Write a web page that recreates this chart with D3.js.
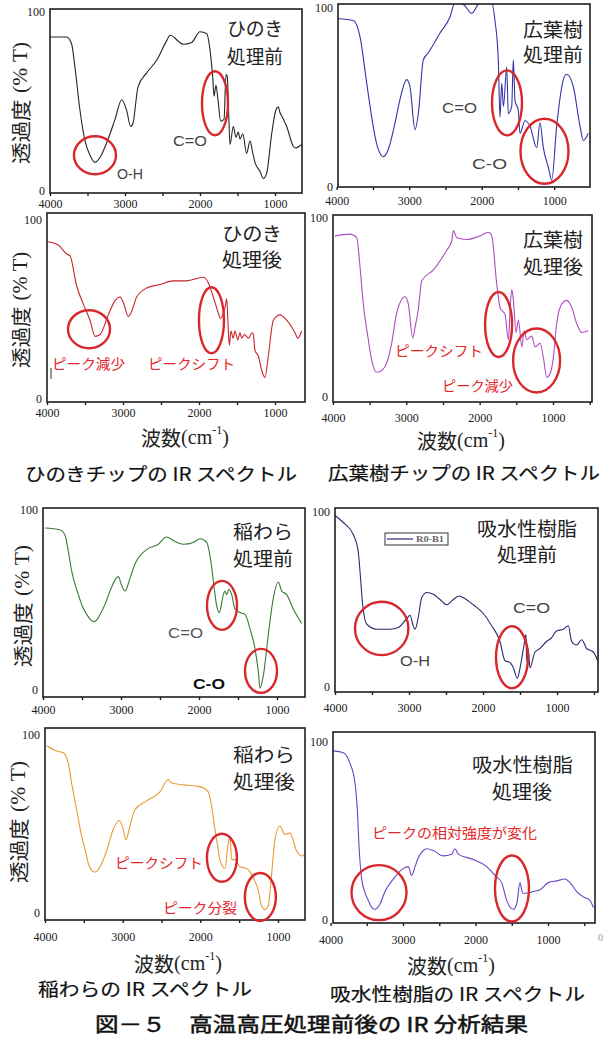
<!DOCTYPE html>
<html>
<head>
<meta charset="utf-8">
<script src="https://cdn.jsdelivr.net/npm/d3@7"></script>
<style>
  body { margin: 0; background: #fff; }
  svg { display: block; }
</style>
</head>
<body>
<svg id="fig" width="606" height="1041"></svg>
<script>
// IR spectra: [wavenumber (cm-1), transmittance (%T)]
const hinokiBefore = [[4000,86],[3778,86],[3711,82],[3667,69],[3600,45],[3533,28],[3467,20],[3400,16],[3330,19],[3244,27],[3133,40],[3044,51],[2978,45],[2924,36],[2893,38],[2827,58],[2711,66],[2578,73],[2444,84],[2400,87],[2222,82],[2111,83],[2000,89],[1911,88],[1867,79],[1831,64],[1813,53],[1787,59],[1760,51],[1724,39],[1680,40],[1653,65],[1636,64],[1618,44],[1600,26],[1556,36],[1520,30],[1489,33],[1467,29],[1430,32],[1378,21],[1333,28],[1300,22],[1267,16],[1200,11],[1156,7],[1111,10],[1044,32],[990,45],[956,47],[935,44],[911,42],[844,36],[756,25],[733,24],[644,26]];
const hinokiAfter = [[4000,88],[3851,86],[3741,81],[3697,80],[3609,63],[3522,53],[3434,44],[3368,35],[3303,36],[3193,47],[3105,55],[3039,57],[2996,54],[2930,46],[2886,49],[2820,57],[2688,62],[2513,64],[2338,66],[2162,66],[1943,68],[1878,65],[1812,57],[1746,48],[1720,45],[1658,51],[1635,56],[1620,44],[1601,30],[1580,38],[1550,34],[1526,38],[1490,33],[1460,37],[1438,34],[1400,36],[1350,34],[1300,37],[1285,36],[1263,27],[1219,24],[1175,16],[1132,12],[1088,24],[1022,44],[934,47],[846,44],[737,37],[700,34],[649,38]];
const broadleafBefore = [[3978,94],[3771,93],[3679,84],[3586,58],[3517,39],[3470,28],[3426,21],[3390,18],[3357,17],[3310,19],[3265,24],[3200,35],[3127,49],[3034,60],[2989,56],[2920,32],[2874,41],[2805,71],[2736,75],[2575,86],[2437,95],[2368,103],[2253,102],[2138,97],[2023,103],[1862,103],[1817,93],[1771,71],[1748,39],[1724,58],[1700,45],[1655,67],[1633,41],[1586,45],[1564,71],[1540,48],[1495,43],[1472,30],[1403,37],[1334,34],[1241,22],[1196,36],[1150,22],[1081,11],[1034,4],[966,34],[874,60],[828,63],[736,56],[644,34],[598,26],[529,30]];
const broadleafAfter = [[3973,90],[3768,91],[3677,89],[3632,73],[3587,52],[3518,32],[3480,22],[3450,17],[3410,14],[3382,14],[3330,15],[3267,19],[3200,30],[3131,47],[3018,56],[2973,52],[2913,33],[2881,39],[2836,49],[2790,65],[2632,71],[2449,82],[2381,87],[2358,93],[2312,89],[2176,88],[1995,90],[1881,92],[1835,90],[1767,63],[1722,50],[1654,46],[1608,32],[1585,49],[1562,60],[1540,54],[1503,36],[1472,43],[1425,28],[1394,37],[1358,32],[1290,34],[1245,28],[1176,30],[1131,22],[1085,11],[1040,13],[995,22],[950,41],[880,52],[812,54],[744,50],[676,41],[608,36],[518,37]];
const riceBefore = [[3974,90],[3782,89],[3718,86],[3675,77],[3632,66],[3547,53],[3490,46],[3440,42],[3390,39],[3355,38],[3310,39],[3269,42],[3200,48],[3141,55],[3035,63],[2991,58],[2949,55],[2885,62],[2821,70],[2671,78],[2522,81],[2415,85],[2329,83],[2201,81],[2073,82],[1987,84],[1902,82],[1837,68],[1804,56],[1774,47],[1740,43],[1688,53],[1667,55],[1645,53],[1615,56],[1581,53],[1538,45],[1474,43],[1410,42],[1346,34],[1282,23],[1239,10],[1218,1],[1175,8],[1111,31],[1047,51],[983,60],[940,55],[876,53],[791,45],[684,37]];
const resinBefore = [[4000,98],[3888,94],[3752,87],[3685,77],[3662,66],[3626,47],[3572,36],[3437,33],[3257,33],[3144,34],[3032,39],[2986,41],[2950,36],[2919,33],[2874,40],[2829,51],[2761,54],[2671,53],[2581,50],[2491,47],[2401,50],[2320,52],[2266,51],[2131,47],[1996,42],[1883,35],[1770,26],[1703,15],[1635,14],[1590,11],[1536,5],[1490,13],[1446,24],[1419,30],[1410,15],[1390,22],[1365,11],[1297,20],[1230,22],[1140,26],[1075,28],[1007,32],[915,33],[847,35],[802,26],[734,24],[666,27],[599,22],[509,20],[450,15]];
const riceAfter = [[3978,94],[3850,91],[3764,90],[3700,84],[3657,73],[3592,58],[3528,43],[3480,35],[3443,28],[3400,24],[3356,23],[3320,24],[3292,26],[3206,35],[3121,47],[3044,52],[2992,47],[2958,41],[2906,49],[2842,58],[2691,63],[2520,68],[2413,75],[2370,73],[2220,72],[2005,71],[1898,68],[1855,60],[1812,47],[1782,39],[1748,30],[1683,25],[1641,39],[1619,43],[1597,30],[1555,30],[1490,26],[1404,25],[1319,20],[1255,13],[1211,4],[1169,2],[1126,4],[1082,22],[1040,41],[976,49],[911,44],[847,45],[761,35],[697,32],[654,33]];
const resinAfter = [[3961,95],[3823,94],[3731,88],[3662,77],[3630,62],[3603,39],[3570,23],[3520,15],[3479,11],[3430,7],[3386,6],[3350,7],[3317,9],[3248,16],[3134,23],[2996,29],[2927,30],[2880,25],[2834,30],[2789,35],[2742,38],[2673,40],[2582,39],[2444,36],[2329,37],[2283,40],[2237,37],[2030,34],[1846,30],[1731,25],[1639,21],[1570,11],[1479,6],[1432,9],[1386,21],[1349,15],[1294,15],[1203,16],[1110,17],[996,21],[880,22],[766,23],[697,21],[604,16],[513,13],[421,11],[375,7]];

// Axis tick labels
const xTickLabels = [4000, 3000, 2000, 1000];
const yTickLabels = [0, 100];

// Highlighted bands: [wavenumber, %T] of each circle's centre
const hinokiBeforeMarks = [[3400,20],[1800,49]];
const hinokiAfterMarks = [[3447,39],[1836,44]];
const broadleafBeforeMarks = [[1651,47],[1134,20]];
const broadleafAfterMarks = [[1742,40.5],[1224,20.4]];
const riceBeforeMarks = [[1705,47],[1205,10.6]];
const riceAfterMarks = [[1722,31],[1227,9]];
const resinBeforeMarks = [[3369,33.5],[1608,17]];
const resinAfterMarks = [[3331,15.4],[1497,17.7]];

const JP = "'Noto Sans CJK JP', sans-serif";
const SERIF = "'Liberation Serif', 'DejaVu Serif', serif";
const SANS = "'Liberation Sans', Arial, sans-serif";
const RED = '#e3262a';

const panels = [
  { data: hinokiBefore, color: '#262626', frame: [50, 9, 302, 193], x4000: 50, x1000: 275, y0: 191, y100: 12, tickY: 204,
    yLabel: [20, 103, 122], title: ['ひのき', '処理前'], tpos: [227, 27, 55, 56, 56],
    marks: hinokiBeforeMarks, radii: [[21, 19], [13, 32]],
    notes: [['O-H', 117, 173, 26, '#444', SANS, 'normal'], ['C=O', 173, 140, 34, '#444', SANS, 'normal']] },
  { data: hinokiAfter, color: '#c8242a', frame: [47, 213, 305, 402], x4000: 47, x1000: 275, y0: 399, y100: 220, tickY: 413,
    yLabel: [20, 310, 116], title: ['ひのき', '処理後'], tpos: [222, 232, 258, 60, 60],
    marks: hinokiAfterMarks, radii: [[21, 19], [12.5, 33]],
    notes: [['ピーク減少', 52, 363, 73, RED, JP, 'normal'], ['ピークシフト', 148, 363, 87, RED, JP, 'normal']] },
  { data: broadleafBefore, color: '#3434a8', frame: [338, 4, 590, 187], x4000: 336.7, x1000: 554.2, y0: 187, y100: 8, tickY: 201,
    yLabel: null, title: ['広葉樹', '処理前'], tpos: [523, 28, 53, 60, 60],
    marks: broadleafBeforeMarks, radii: [[15, 32.5], [24, 32.5]],
    notes: [['C=O', 442, 107, 35, '#444', SANS, 'normal'], ['C-O', 472, 163, 35, '#444', SANS, 'normal']] },
  { data: broadleafAfter, color: '#b04cc4', frame: [333, 215, 592, 402], x4000: 333, x1000: 553, y0: 397, y100: 218, tickY: 418,
    yLabel: null, title: ['広葉樹', '処理後'], tpos: [523, 238, 265, 60, 60],
    marks: broadleafAfterMarks, radii: [[13.5, 32.5], [23.5, 32]],
    notes: [['ピークシフト', 395, 350, 88, RED, JP, 'normal'], ['ピーク減少', 442, 385, 71, RED, JP, 'normal']] },
  { data: riceBefore, color: '#3a7a34', frame: [43, 508, 305, 697], x4000: 43, x1000: 277, y0: 690, y100: 510, tickY: 710,
    yLabel: [22, 606, 122], title: ['稲わら', '処理前'], tpos: [233, 530, 557, 60, 60],
    marks: riceBeforeMarks, radii: [[15, 24.5], [16, 22]],
    notes: [['C=O', 168, 632, 35, '#555', SANS, 'normal'], ['C-O', 193, 683, 32, '#111', SANS, 'bold']] },
  { data: resinBefore, color: '#2a2a6e', frame: [335, 508, 598, 692], x4000: 335, x1000: 557, y0: 687, y100: 512, tickY: 708,
    yLabel: null, title: ['吸水性樹脂', '処理前'], tpos: [477, 527, 553, 100, 60], t2x: 497,
    marks: resinBeforeMarks, radii: [[26.7, 26.7], [16, 31]],
    notes: [['O-H', 400, 660, 30, '#444', SANS, 'normal'], ['C=O', 513, 607, 37, '#444', SANS, 'normal']], legend: true },
  { data: riceAfter, color: '#e89a36', frame: [45, 728, 305, 920], x4000: 45, x1000: 278, y0: 913, y100: 735, tickY: 937,
    yLabel: [18, 822, 122], title: ['稲わら', '処理後'], tpos: [233, 753, 780, 62, 62],
    marks: riceAfterMarks, radii: [[15, 24], [15.5, 24]],
    notes: [['ピークシフト', 115, 862, 88, RED, JP, 'normal'], ['ピーク分裂', 163, 907, 74, RED, JP, 'normal']] },
  { data: resinAfter, color: '#6a44c4', frame: [333, 732, 595, 923], x4000: 330.5, x1000: 548, y0: 920, y100: 742, tickY: 940,
    yLabel: null, title: ['吸水性樹脂', '処理後'], tpos: [472, 763, 790, 101, 60], t2x: 492,
    marks: resinAfterMarks, radii: [[27.5, 27.5], [17, 33]],
    notes: [['ピークの相対強度が変化', 372, 832, 165, RED, JP, 'normal']] }
];

const svg = d3.select('#fig');
svg.append('rect').attr('width', 606).attr('height', 1041).attr('fill', '#fff');

function label(g, s, x, y, o) {
  const t = g.append('text')
    .attr('x', x).attr('y', y)
    .attr('dominant-baseline', 'central')
    .attr('font-family', o.family || JP)
    .attr('font-size', o.size || 14)
    .attr('font-weight', o.weight || 'normal')
    .attr('fill', o.fill || '#222')
    .attr('text-anchor', o.anchor || 'start')
    .text(s);
  if (o.len) t.attr('textLength', o.len).attr('lengthAdjust', 'spacingAndGlyphs');
  if (o.stroke) t.attr('stroke', o.fill || '#222').attr('stroke-width', o.stroke);
  return t;
}

panels.forEach((p, i) => {
  const [l, t, r, b] = p.frame;
  const x = d3.scaleLinear().domain([4000, 1000]).range([p.x4000, p.x1000]);
  const y = d3.scaleLinear().domain([0, 100]).range([p.y0, p.y100]);
  const g = svg.append('g');

  const clipId = 'clip' + i;
  svg.append('clipPath').attr('id', clipId)
    .append('rect').attr('x', l).attr('y', t).attr('width', r - l).attr('height', b - t);

  // spectrum trace
  const line = d3.line().x(d => x(d[0])).y(d => y(d[1])).curve(d3.curveMonotoneX);
  g.append('path')
    .datum(p.data)
    .attr('clip-path', `url(#${clipId})`)
    .attr('d', line)
    .attr('fill', 'none')
    .attr('stroke', p.color)
    .attr('stroke-width', 1.1)
    .attr('stroke-linejoin', 'round');

  // plot frame
  g.append('rect')
    .attr('x', l).attr('y', t).attr('width', r - l).attr('height', b - t)
    .attr('fill', 'none').attr('stroke', '#1e1e1e').attr('stroke-width', 1.6);

  // wavenumber axis
  const wEnd = x.invert(r);
  const minor = d3.range(4000, wEnd - 1, -500);
  const ax = g.append('g').attr('transform', `translate(0,${b})`)
    .call(d3.axisBottom(x).tickValues(minor)
      .tickFormat(d => xTickLabels.includes(d) ? d : '')
      .tickSizeInner(3).tickSizeOuter(0));
  ax.select('.domain').remove();
  ax.selectAll('line').attr('stroke', '#1e1e1e').attr('stroke-width', 1.4);
  ax.selectAll('text')
    .attr('y', p.tickY - b).attr('dy', '0.35em')
    .attr('font-family', SERIF).attr('font-size', 12).attr('fill', '#1a1a1a');

  // transmittance axis
  const ay = g.append('g').attr('transform', `translate(${l},0)`)
    .call(d3.axisLeft(y).tickValues(yTickLabels).tickSizeInner(0).tickSizeOuter(0).tickPadding(5));
  ay.select('.domain').remove();
  ay.selectAll('text').attr('font-family', SERIF).attr('font-size', 12).attr('fill', '#1a1a1a');

  // vertical axis title
  if (p.yLabel) {
    const [yx, yy, ylen] = p.yLabel;
    const yt = g.append('text')
      .attr('transform', `translate(${yx},${yy}) rotate(-90)`)
      .attr('text-anchor', 'middle').attr('dominant-baseline', 'central')
      .attr('font-size', 20).attr('fill', '#222')
      .attr('textLength', ylen).attr('lengthAdjust', 'spacingAndGlyphs');
    yt.append('tspan').attr('font-family', JP).text('透過度');
    yt.append('tspan').attr('font-family', SERIF).attr('dx', 6).text('(% T)');
  }

  // sample / condition title
  const [tx, ty1, ty2, tw1, tw2] = p.tpos;
  label(g, p.title[0], tx, ty1, { size: 19, len: tw1, fill: '#222' });
  label(g, p.title[1], p.t2x || tx, ty2, { size: 19, len: tw2, fill: '#222' });

  // highlighted bands
  p.marks.forEach((m, k) => {
    g.append('ellipse')
      .attr('cx', x(m[0])).attr('cy', y(m[1]))
      .attr('rx', p.radii[k][0]).attr('ry', p.radii[k][1])
      .attr('fill', 'none').attr('stroke', '#d8282c').attr('stroke-width', 2.4);
  });

  // band annotations
  p.notes.forEach(n => {
    label(g, n[0], n[1], n[2], { size: n[5] === JP ? 14 : 15, len: n[3], fill: n[4], family: n[5], weight: n[6] });
  });

  if (p.legend) {
    const lg = g.append('g');
    lg.append('rect').attr('x', 385).attr('y', 533).attr('width', 63).attr('height', 12)
      .attr('fill', '#fff').attr('stroke', '#333').attr('stroke-width', 1);
    lg.append('line').attr('x1', 387).attr('x2', 413).attr('y1', 539).attr('y2', 539)
      .attr('stroke', p.color).attr('stroke-width', 1.2);
    label(lg, 'R0-B1', 416, 539.5, { size: 7.5, family: SERIF, weight: 'bold', fill: '#666', len: 28 });
  }
});

// wavenumber axis titles
function waveTitle(cx, cy) {
  const t = svg.append('text').attr('x', cx).attr('y', cy)
    .attr('text-anchor', 'middle').attr('dominant-baseline', 'central')
    .attr('fill', '#222').attr('font-size', 20);
  t.append('tspan').attr('font-family', JP).text('波数');
  t.append('tspan').attr('font-family', SERIF).text('(cm');
  t.append('tspan').attr('font-family', SERIF).attr('font-size', 12).attr('dy', -7).text('-1');
  t.append('tspan').attr('font-family', SERIF).attr('dy', 7).text(')');
}
waveTitle(185, 437);
waveTitle(461, 440);
waveTitle(178, 963);
waveTitle(451, 965);

// small stray marks on the plates
svg.append('line').attr('x1', 51).attr('x2', 51).attr('y1', 368).attr('y2', 379)
  .attr('stroke', '#333').attr('stroke-width', 1);
label(svg, '0', 598, 937, { size: 10, family: SERIF, fill: '#999' });

// captions
label(svg, 'ひのきチップの IR スペクトル', 25, 473, { size: 18, len: 272, fill: '#111', stroke: 0.2 });
label(svg, '広葉樹チップの IR スペクトル', 328, 472, { size: 18, len: 272, fill: '#111', stroke: 0.2 });
label(svg, '稲わらの IR スペクトル', 38, 988, { size: 18, len: 214, fill: '#111', stroke: 0.2 });
label(svg, '吸水性樹脂の IR スペクトル', 330, 993, { size: 18, len: 255, fill: '#111', stroke: 0.2 });
label(svg, '図－５　高温高圧処理前後の IR 分析結果', 95, 1023, { size: 20, len: 433, fill: '#111', stroke: 0.5 });
</script>
</body>
</html>
